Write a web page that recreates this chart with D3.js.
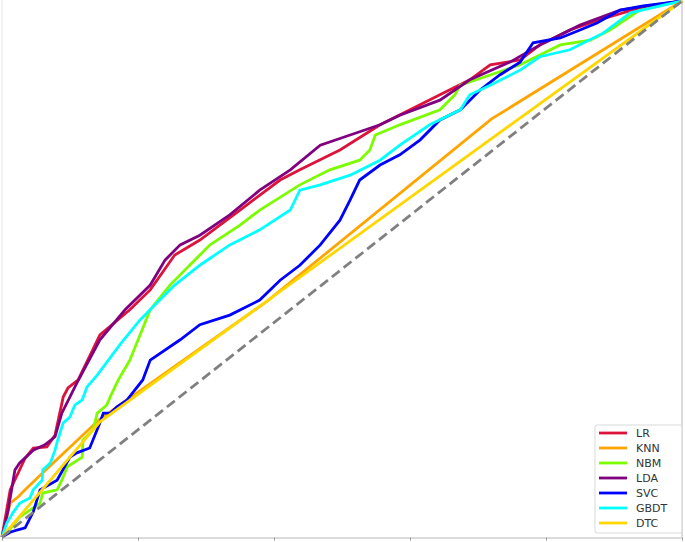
<!DOCTYPE html>
<html>
<head>
<meta charset="utf-8">
<script src="https://cdn.jsdelivr.net/npm/d3@7"></script>
<style>
  body { margin: 0; background: #fff; }
  svg { display: block; font-family: "DejaVu Sans", sans-serif; }
</style>
</head>
<body>
<div id="roc"></div>
<script>
// ROC points, [false positive rate, true positive rate]
var lrRoc = [[0,0],[0.012,0.088],[0.034,0.147],[0.046,0.166],[0.066,0.168],[0.078,0.190],[0.090,0.261],[0.097,0.278],[0.112,0.293],[0.144,0.377],[0.188,0.424],[0.218,0.461],[0.254,0.526],[0.291,0.554],[0.350,0.610],[0.409,0.666],[0.438,0.685],[0.497,0.722],[0.556,0.769],[0.600,0.797],[0.644,0.825],[0.688,0.853],[0.718,0.881],[0.762,0.890],[0.791,0.918],[0.835,0.946],[0.879,0.965],[0.938,0.987],[1,1]];
var knnRoc = [[0,0],[0.004,0.02],[0.012,0.063],[0.024,0.075],[0.034,0.088],[0.06,0.12],[0.144,0.22],[0.39,0.44],[0.72,0.78],[1,1]];
var nbmRoc = [[0,0],[0.007,0.007],[0.026,0.037],[0.041,0.050],[0.056,0.063],[0.060,0.082],[0.081,0.088],[0.088,0.106],[0.096,0.131],[0.118,0.149],[0.119,0.181],[0.134,0.200],[0.140,0.231],[0.154,0.246],[0.159,0.261],[0.171,0.293],[0.188,0.330],[0.203,0.377],[0.218,0.424],[0.247,0.470],[0.291,0.526],[0.306,0.545],[0.350,0.582],[0.379,0.610],[0.438,0.657],[0.482,0.685],[0.526,0.703],[0.541,0.722],[0.549,0.750],[0.585,0.769],[0.644,0.797],[0.666,0.825],[0.674,0.843],[0.718,0.862],[0.762,0.881],[0.821,0.918],[0.865,0.927],[0.894,0.946],[0.938,0.983],[1,1]];
var ldaRoc = [[0,0],[0.009,0.050],[0.019,0.125],[0.026,0.138],[0.046,0.162],[0.063,0.172],[0.078,0.187],[0.088,0.231],[0.110,0.287],[0.144,0.368],[0.181,0.424],[0.218,0.470],[0.240,0.517],[0.262,0.545],[0.291,0.563],[0.335,0.601],[0.379,0.647],[0.424,0.685],[0.468,0.731],[0.512,0.750],[0.556,0.769],[0.585,0.787],[0.644,0.815],[0.688,0.853],[0.747,0.886],[0.791,0.918],[0.850,0.955],[0.909,0.983],[1,1]];
var svcRoc = [[0,0],[0.012,0.009],[0.022,0.013],[0.034,0.017],[0.046,0.047],[0.056,0.088],[0.081,0.106],[0.100,0.149],[0.110,0.157],[0.129,0.166],[0.144,0.213],[0.149,0.231],[0.159,0.231],[0.169,0.243],[0.184,0.256],[0.207,0.293],[0.218,0.330],[0.262,0.368],[0.291,0.396],[0.335,0.414],[0.379,0.442],[0.409,0.479],[0.438,0.507],[0.468,0.545],[0.497,0.591],[0.512,0.629],[0.526,0.666],[0.556,0.694],[0.585,0.713],[0.615,0.741],[0.644,0.778],[0.674,0.797],[0.703,0.834],[0.732,0.862],[0.762,0.886],[0.781,0.922],[0.821,0.931],[0.850,0.946],[0.875,0.959],[0.909,0.983],[0.943,0.991],[1,1]];
var gbdtRoc = [[0,0],[0.007,0.026],[0.016,0.045],[0.026,0.063],[0.041,0.073],[0.046,0.088],[0.059,0.106],[0.060,0.125],[0.071,0.138],[0.078,0.162],[0.082,0.181],[0.090,0.213],[0.100,0.224],[0.107,0.246],[0.118,0.256],[0.125,0.280],[0.140,0.302],[0.174,0.360],[0.203,0.405],[0.232,0.442],[0.254,0.470],[0.291,0.507],[0.335,0.545],[0.379,0.573],[0.424,0.610],[0.438,0.647],[0.468,0.657],[0.512,0.675],[0.556,0.703],[0.585,0.731],[0.629,0.769],[0.674,0.797],[0.688,0.825],[0.718,0.843],[0.762,0.871],[0.791,0.896],[0.835,0.909],[0.884,0.940],[0.924,0.978],[0.968,0.991],[1,1]];
var dtcRoc = [[0,0],[0.144,0.215],[1,1]];

var models = ["LR", "KNN", "NBM", "LDA", "SVC", "GBDT", "DTC"];
var colors = ["#dc143c", "#ffa500", "#7cfc00", "#800080", "#0000ff", "#00ffff", "#ffd700"];
var rocs = [lrRoc, knnRoc, nbmRoc, ldaRoc, svcRoc, gbdtRoc, dtcRoc];
var xTicks = [0, 0.2, 0.4, 0.6, 0.8, 1];

var width = 685, height = 542;

var svg = d3.select("#roc").append("svg")
    .attr("width", width)
    .attr("height", height);

var x = d3.scaleLinear().domain([0, 1]).range([2, 682]);
var y = d3.scaleLinear().domain([0, 1]).range([537, 1]);

// spines
svg.append("line").attr("x1", 2).attr("x2", 2).attr("y1", 0).attr("y2", 537)
    .attr("stroke", "#e6e6e6").attr("stroke-width", 1);
svg.append("line").attr("x1", 682).attr("x2", 682).attr("y1", 0).attr("y2", 537)
    .attr("stroke", "#b8b8b8").attr("stroke-width", 1);

var gX = svg.append("g")
    .attr("transform", "translate(0,537.5)")
    .call(d3.axisBottom(x).tickValues(xTicks).tickSize(3).tickFormat(""));
gX.select(".domain").attr("stroke", "#b8b8b8");
gX.selectAll(".tick line").attr("stroke", "#999");

var line = d3.line()
    .x(function(d) { return x(d[0]); })
    .y(function(d) { return y(d[1]); });

svg.selectAll(".roc")
    .data(rocs)
    .enter().append("path")
    .attr("class", "roc")
    .attr("d", line)
    .attr("fill", "none")
    .attr("stroke", function(d, i) { return colors[i]; })
    .attr("stroke-width", 2.8)
    .attr("stroke-linejoin", "miter");

// chance line
svg.append("path")
    .attr("d", line([[0, 0], [1, 1]]))
    .attr("fill", "none")
    .attr("stroke", "#808080")
    .attr("stroke-width", 2.8)
    .attr("stroke-dasharray", "10,5");

// legend
var legend = svg.append("g").attr("transform", "translate(595,425)");
legend.append("rect")
    .attr("width", 87).attr("height", 108)
    .attr("rx", 2)
    .attr("fill", "#fff").attr("fill-opacity", 0.8)
    .attr("stroke", "#d9d9d9");

var item = legend.selectAll(".item")
    .data(models)
    .enter().append("g")
    .attr("class", "item")
    .attr("transform", function(d, i) { return "translate(0," + (8 + i * 15) + ")"; });

item.append("line")
    .attr("x1", 4).attr("x2", 32)
    .attr("stroke", function(d, i) { return colors[i]; })
    .attr("stroke-width", 2.8);

item.append("text")
    .attr("x", 41).attr("dy", "0.35em")
    .attr("font-size", 11)
    .attr("fill", "#333")
    .text(function(d) { return d; });
</script>
</body>
</html>
